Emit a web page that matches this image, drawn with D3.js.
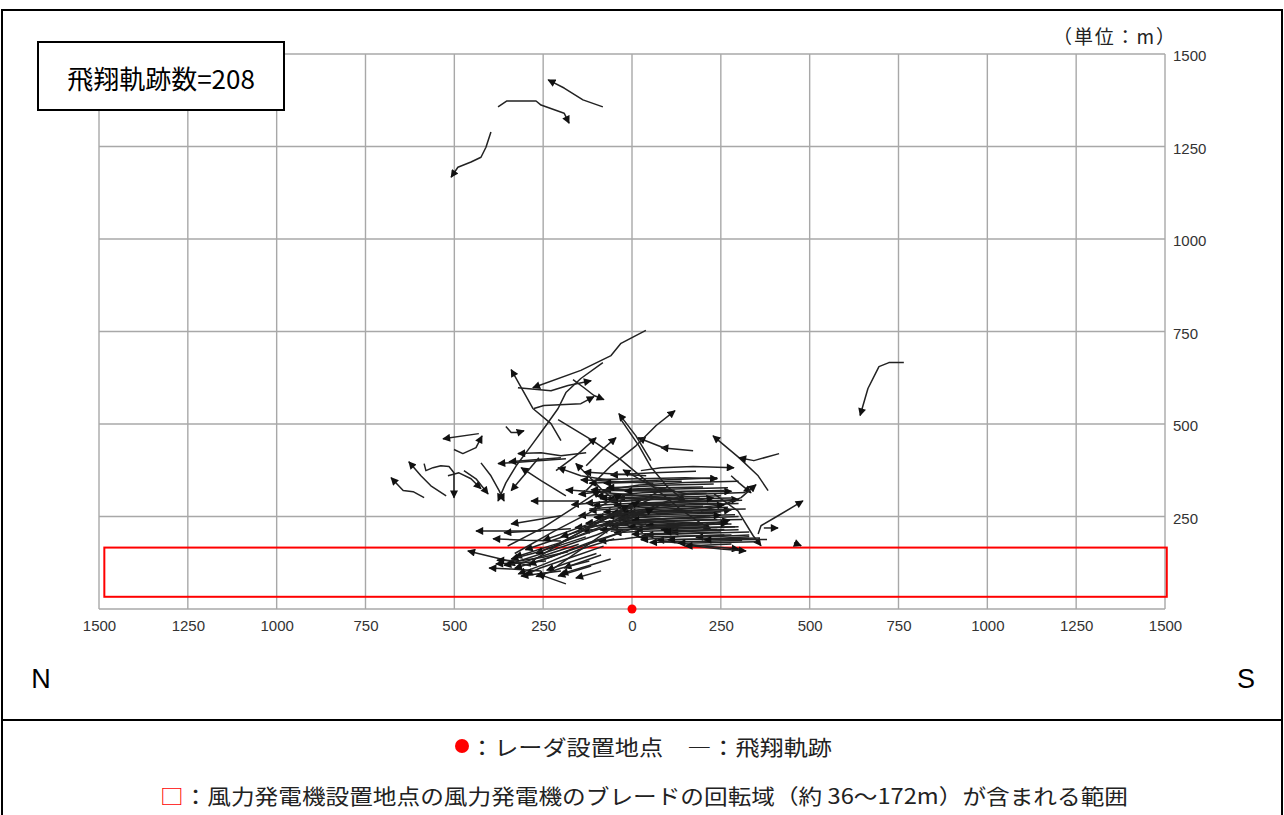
<!DOCTYPE html>
<html><head><meta charset="utf-8">
<script src="https://cdn.jsdelivr.net/npm/d3@7"></script>
<style>body{margin:0;background:#fff}svg{display:block}</style>
</head><body>
<svg id="c" width="1284" height="815"></svg>
<script>
// ---- data (meters; x < 0 = N side, x > 0 = S side) ----
const xTicks = [-1500,-1250,-1000,-750,-500,-250,0,250,500,750,1000,1250,1500];
const yTicks = [0,250,500,750,1000,1250,1500];
const trackCount = 208;
const radarPoint = [0,0];
const rotorBand = {x0:-1485, x1:1505, y0:33, y1:166};
const tracks = [
 [[-82,1357],[-138,1376],[-191,1408],[-236,1430]],
 [[-377,1357],[-352,1373],[-270,1373],[-256,1362],[-191,1340],[-177,1313]],
 [[-397,1289],[-411,1248],[-425,1221],[-453,1208],[-490,1194],[-509,1167]],
 [[765,666],[723,666],[695,655],[664,596],[642,523]],
 [[39,753],[-31,718],[-59,685],[-144,645],[-279,598]],
 [[-82,666],[-144,623],[-186,585],[-208,542],[-242,496],[-284,441],[-326,387],[-355,341],[-377,292]],
 [[-321,598],[-228,590],[-180,604],[-115,617]],
 [[-166,620],[-135,598],[-107,577],[-79,566]],
 [[-200,455],[-228,501],[-279,542],[-340,647]],
 [[-276,542],[-248,550],[-144,555],[-107,574]],
 [[-208,512],[-115,458],[-31,403],[53,336],[138,268],[222,214]],
 [[-501,431],[-476,420],[-439,436],[-422,468]],
 [[-431,474],[-532,460]],
 [[-355,493],[-340,477],[-321,477],[-304,482]],
 [[-585,301],[-616,317],[-644,320],[-678,355]],
 [[-523,306],[-566,333],[-594,360],[-628,398]],
 [[-585,393],[-580,374],[-560,382],[-538,387],[-515,385],[-501,368],[-501,301]],
 [[-518,360],[-487,368],[-453,352],[-425,325]],
 [[-473,374],[-439,352],[-405,311]],
 [[-425,395],[-397,360],[-374,320],[-360,292]],
 [[-186,406],[-377,393]],
 [[-200,409],[-346,398]],
 [[-129,422],[-200,414],[-256,422],[-321,420]],
 [[-262,409],[-340,320]],
 [[-186,306],[-256,347],[-312,382]],
 [[-59,347],[-144,360],[-208,382]],
 [[-31,279],[-87,325],[-158,393]],
 [[-214,374],[-158,414],[-101,463]],
 [[-129,387],[-87,428],[-45,463]],
 [[53,401],[11,468],[-37,528]],
 [[-149,292],[-284,292]],
 [[-256,211],[-439,211]],
 [[-200,252],[-340,230]],
 [[-200,184],[-300,186],[-391,190]],
 [[-172,217],[-360,206]],
 [[-284,116],[-369,135],[-462,157]],
 [[-256,103],[-340,108],[-402,111]],
 [[-242,130],[-312,125],[-383,122]],
 [[-200,103],[-312,89]],
 [[-186,68],[-265,95]],
 [[-115,116],[-208,89]],
 [[-87,103],[-158,84]],
 [[-87,146],[-191,111]],
 [[172,428],[82,436]],
 [[96,433],[17,463]],
 [[-129,320],[-59,387],[11,441],[68,496],[121,536]],
 [[383,320],[355,360],[301,409],[228,468]],
 [[414,420],[343,401],[301,409]],
 [[25,374],[82,382],[172,385],[287,382]],
 [[279,360],[301,341],[335,314]],
 [[194,265],[250,279],[307,301],[349,336]],
 [[355,203],[363,225],[411,252],[481,292]],
 [[371,219],[411,219]],
 [[456,179],[476,171]],
 [[82,184],[194,171],[301,162]],
 [[166,171],[250,162],[321,157]],
 [[231,311],[298,265],[341,198],[363,171]],
 [[-31,512],[20,440],[53,384],[100,330],[150,290]],
 // dense core
 [[180,372],[60,368],[-60,362]],
 [[240,355],[120,350],[0,345],[-120,340]],
 [[300,345],[150,342],[20,335],[-80,320]],
 [[200,330],[80,328],[-40,322],[-150,310]],
 [[260,320],[140,318],[30,314],[-100,305]],
 [[320,315],[180,310],[60,305],[-40,300]],
 [[280,300],[160,298],[40,295],[-60,290]],
 [[230,292],[120,290],[0,286],[-110,280]],
 [[300,285],[180,282],[60,280],[-20,276]],
 [[270,275],[150,272],[30,268],[-80,262]],
 [[320,270],[200,268],[90,265],[-10,260]],
 [[250,262],[130,260],[10,255],[-100,248]],
 [[290,255],[170,252],[50,250],[-40,245]],
 [[220,248],[100,245],[-20,240],[-130,232]],
 [[310,242],[190,240],[70,236],[-30,232]],
 [[260,235],[140,232],[20,228],[-60,225]],
 [[200,228],[80,225],[-30,220],[-140,212]],
 [[290,222],[170,220],[60,216],[10,214]],
 [[240,215],[120,212],[30,210],[-50,206]],
 [[330,208],[200,205],[100,202],[40,200]],
 [[280,200],[180,198],[90,196],[20,194]],
 [[360,192],[250,190],[140,188],[70,186]],
 [[310,185],[210,183],[120,182],[50,180]],
 [[-60,320],[60,318],[180,316],[280,318]],
 [[-40,300],[80,296],[200,292],[300,296]],
 [[200,232],[100,228],[40,226]],
 [[260,215],[170,210],[110,208]],
 [[330,200],[240,196],[180,194]],
 [[-100,350],[20,352],[150,355],[240,352]],
 [[-20,240],[100,236],[230,232],[275,240]],
 [[0,265],[120,262],[230,262],[279,268]],
 [[260,200],[140,196],[25,187]],
 [[300,222],[180,218],[82,214]],
 [[330,195],[220,190],[101,187]],
 [[350,182],[250,180],[130,178]],
 [[380,188],[290,187],[203,187]],
 [[280,176],[200,172],[150,170]],
 [[100,300],[-20,310],[-186,322]],
 [[60,340],[-60,345],[-144,349]],
 [[40,360],[-50,365],[-135,370]],
 [[120,320],[0,322],[-115,322]],
 [[140,345],[40,343],[-79,340]],
 [[150,280],[40,270],[-59,258]],
 [[160,310],[60,330],[-25,376]],
 [[80,250],[-20,245],[-107,248]],
 [[60,200],[-20,190],[-93,183]],
 [[230,338],[110,335],[-10,330],[-70,328]],
 [[270,328],[150,325],[40,322],[-20,318]],
 [[210,312],[90,310],[-20,306],[-90,298]],
 [[250,306],[130,303],[20,300],[-70,296]],
 [[190,300],[70,297],[-30,292],[-130,286]],
 [[310,294],[200,290],[100,288],[0,284]],
 [[240,286],[130,284],[30,281],[-50,279]],
 [[200,278],[90,276],[-10,272],[-120,266]],
 [[280,268],[170,266],[70,262],[-30,256]],
 [[230,258],[110,256],[0,252],[-70,250]],
 [[300,250],[190,246],[90,244],[0,240]],
 [[240,242],[130,240],[40,236],[-80,230]],
 [[280,230],[170,228],[80,224],[-10,222]],
 [[210,222],[100,220],[0,216],[-90,214]],
 [[250,208],[150,205],[60,204],[0,202]],
 [[300,214],[220,212],[140,210],[90,208]],
 [[170,265],[60,262],[-40,258],[-150,252]],
 [[140,298],[30,296],[-70,290],[-170,282]],
 [[120,236],[20,232],[-60,228],[-160,220]],
 [[-80,250],[30,262],[150,270],[260,282]],
 [[-120,270],[0,280],[120,288],[230,300]],
 [[-100,225],[20,238],[140,246],[250,254]],
 [[-60,210],[60,220],[170,226],[270,232]],
 // lower-left spread
 [[60,300],[-60,250],[-180,200],[-300,160]],
 [[100,330],[0,280],[-120,230],[-250,185]],
 [[30,260],[-80,220],[-200,180],[-330,140]],
 [[150,310],[40,270],[-80,230],[-200,195]],
 [[0,240],[-100,200],[-220,160],[-350,120]],
 [[80,280],[-40,240],[-160,195],[-270,150]],
 [[-20,210],[-120,180],[-230,140],[-330,110]],
 [[40,230],[-80,190],[-200,150],[-290,120]],
 [[-50,190],[-150,160],[-250,120],[-320,95]],
 [[-80,170],[-170,140],[-260,110],[-300,92]],
 [[-100,150],[-180,125],[-240,105]],
 [[-60,135],[-130,115],[-200,95]],
 [[-120,130],[-200,110],[-270,88]],
 [[-150,175],[-230,150],[-300,128],[-360,118]],
 [[-180,155],[-250,140],[-320,130],[-380,132]],
 [[-130,195],[-210,170],[-280,150],[-340,135]],
 [[-330,150],[-220,210],[-120,260],[-30,310]],
 [[-280,130],[-180,190],[-80,240],[20,290]],
 [[-220,110],[-130,170],[-40,230],[60,270]],
 [[-350,170],[-250,220],[-170,270],[-90,320]],
 [[-200,180],[-100,230],[-10,280]]
];
const legendLine1 = "：レーダ設置地点　―：飛翔軌跡";
const legendLine2 = "：風力発電機設置地点の風力発電機のブレードの回転域（約 36～172m）が含まれる範囲";

// ---- drawing ----
const svg = d3.select("#c");
const x = d3.scaleLinear().domain([-1500,1500]).range([99,1165]);
const y = d3.scaleLinear().domain([0,1500]).range([609,54]);

svg.append("defs").append("marker")
  .attr("id","arr").attr("viewBox","0 0 10 10").attr("refX",9).attr("refY",5)
  .attr("markerWidth",9).attr("markerHeight",8).attr("markerUnits","userSpaceOnUse")
  .attr("orient","auto")
  .append("path").attr("d","M0,0L10,5L0,10Z").attr("fill","#111");

// outer frame
svg.append("rect").attr("x",2).attr("y",10).attr("width",1280).attr("height",820)
  .attr("fill","none").attr("stroke","#000").attr("stroke-width",2);
svg.append("line").attr("x1",2).attr("x2",1282).attr("y1",720).attr("y2",720)
  .attr("stroke","#000").attr("stroke-width",2);

// grid
const grid = svg.append("g").attr("stroke","#a8a8a8").attr("stroke-width",1.4);
grid.selectAll(".gx").data(xTicks).join("line")
  .attr("x1",d=>x(d)).attr("x2",d=>x(d)).attr("y1",y(0)).attr("y2",y(1500));
grid.selectAll(".gy").data(yTicks).join("line")
  .attr("y1",d=>y(d)).attr("y2",d=>y(d)).attr("x1",x(-1500)).attr("x2",x(1500));

// axes labels
const axFont = "'Liberation Sans Narrow','Liberation Sans',Arial,sans-serif";
const xa = svg.append("g").attr("transform",`translate(0,${y(0)})`)
  .call(d3.axisBottom(x).tickValues(xTicks).tickFormat(d=>String(Math.abs(d))).tickSize(0).tickPadding(11));
xa.select(".domain").remove();
xa.selectAll("text").attr("font-family",axFont).attr("font-size",15).attr("fill","#333");
const ya = svg.append("g").attr("transform",`translate(${x(1500)},0)`)
  .call(d3.axisRight(y).tickValues(yTicks.filter(d=>d>0)).tickFormat(d=>String(d)).tickSize(0).tickPadding(8));
ya.select(".domain").remove();
ya.selectAll("text").attr("font-family",axFont).attr("font-size",15).attr("fill","#333").attr("dy","0.45em");

// rotor band
svg.append("rect").attr("x",x(rotorBand.x0)).attr("y",y(rotorBand.y1))
  .attr("width",x(rotorBand.x1)-x(rotorBand.x0)).attr("height",y(rotorBand.y0)-y(rotorBand.y1))
  .attr("fill","none").attr("stroke","#f00").attr("stroke-width",2);

// tracks
const line = d3.line().x(d=>x(d[0])).y(d=>y(d[1]));
svg.append("g").selectAll("path").data(tracks).join("path")
  .attr("d",line).attr("fill","none").attr("stroke","#222").attr("stroke-width",1.5)
  .attr("stroke-linejoin","round").attr("marker-end","url(#arr)");

// radar point
svg.append("circle").attr("cx",x(radarPoint[0])).attr("cy",y(radarPoint[1])).attr("r",4.5).attr("fill","#f00");

// title box
svg.append("rect").attr("x",38).attr("y",42).attr("width",246).attr("height",68)
  .attr("fill","#fff").attr("stroke","#000").attr("stroke-width",2);
svg.append("text").attr("x",161).attr("y",77).attr("text-anchor","middle").attr("dominant-baseline","central")
  .attr("font-family","'Noto Sans CJK JP',sans-serif").attr("font-size",26).attr("fill","#000")
  .text(`飛翔軌跡数=${trackCount}`);

// unit
svg.append("text").attr("x",1053).attr("y",35).attr("dominant-baseline","central")
  .attr("font-family","'Noto Sans CJK JP',serif").attr("font-size",19).attr("fill","#222")
  .attr("textLength",122).attr("lengthAdjust","spacing").text("（単位：m）");

// N / S
svg.append("text").attr("x",41).attr("y",688).attr("text-anchor","middle")
  .attr("font-family",axFont).attr("font-size",27).attr("fill","#000").text("N");
svg.append("text").attr("x",1246).attr("y",688).attr("text-anchor","middle")
  .attr("font-family",axFont).attr("font-size",27).attr("fill","#000").text("S");

// legend
svg.append("circle").attr("cx",462).attr("cy",746).attr("r",7).attr("fill","#f00");
svg.append("text").attr("x",470).attr("y",746).attr("dominant-baseline","central")
  .attr("font-family","'Noto Sans CJK JP',sans-serif").attr("font-size",21).attr("fill","#222")
  .attr("textLength",362).attr("lengthAdjust","spacingAndGlyphs").text(legendLine1);
const t2 = svg.append("text").attr("x",160).attr("y",795).attr("dominant-baseline","central")
  .attr("font-family","'Noto Sans CJK JP',sans-serif").attr("font-size",21).attr("fill","#222")
  .attr("textLength",968).attr("lengthAdjust","spacingAndGlyphs");
t2.append("tspan").attr("fill","#f00").text("□");
t2.append("tspan").text(legendLine2);
</script>
</body></html>
